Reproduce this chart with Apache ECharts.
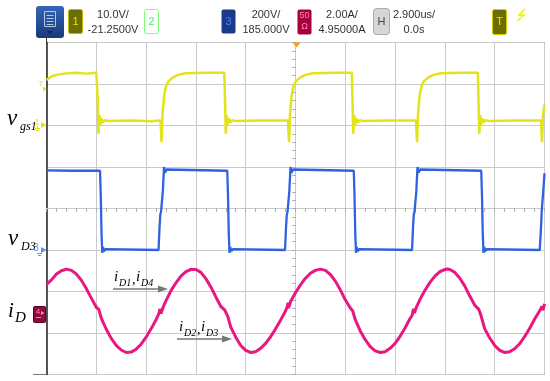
<!DOCTYPE html>
<html><head><meta charset="utf-8">
<script src="https://cdn.jsdelivr.net/npm/echarts@6/dist/echarts.min.js"></script>
<style>html,body{margin:0;padding:0;background:#fff;}#c{width:550px;height:381px;}</style>
</head><body><div id="c"></div>
<script>
// time: divisions from screen centre (2.900 us/div); values: divisions from screen centre
const vgs1 = [[-5.0,3.10],[-4.9,3.18],[-4.8,3.22],[-4.65,3.25],[-4.4,3.27],[-4.2,3.25],[-4.0,3.27],
[-3.985,3.27],[-3.97,2.6],[-3.955,1.80],[-3.935,2.25],[-3.915,2.02],[-3.895,2.17],[-3.865,2.08],[-3.825,2.13],[-3.775,2.11],[-3.3,2.12],[-2.9,2.10],
[-2.71,2.12],[-2.69,1.60],[-2.67,2.25],[-2.64,2.7],[-2.60,2.95],[-2.55,3.07],[-2.46,3.16],[-2.36,3.22],[-2.21,3.26],[-1.8,3.27],
[-1.43,3.27],[-1.415,2.6],[-1.40,1.80],[-1.38,2.25],[-1.36,2.02],[-1.34,2.17],[-1.31,2.08],[-1.27,2.13],[-1.22,2.11],[-0.7,2.12],
[-0.15,2.12],[-0.13,1.60],[-0.11,2.25],[-0.08,2.7],[-0.04,2.95],[0.01,3.07],[0.10,3.16],[0.20,3.22],[0.35,3.26],[0.8,3.27],
[1.13,3.27],[1.145,2.6],[1.16,1.80],[1.18,2.25],[1.20,2.02],[1.22,2.17],[1.25,2.08],[1.29,2.13],[1.34,2.11],[1.9,2.12],
[2.42,2.12],[2.44,1.60],[2.46,2.25],[2.49,2.7],[2.53,2.95],[2.58,3.07],[2.67,3.16],[2.77,3.22],[2.92,3.26],[3.3,3.27],
[3.66,3.27],[3.675,2.6],[3.69,1.80],[3.71,2.25],[3.73,2.02],[3.75,2.17],[3.78,2.08],[3.82,2.13],[3.87,2.11],[4.4,2.12],
[4.93,2.12],[4.95,1.60],[4.97,2.25],[5.0,2.5]];

const vD3 = [[-5,0.92],[-4.5,0.91],
[-3.925,0.91],[-3.91,0.3],[-3.895,-0.6],[-3.88,-1.07],[-3.865,-0.93],[-3.845,-1.03],[-3.815,-0.98],[-3.775,-1.0],
[-2.75,-1.0],[-2.73,-0.45],[-2.715,-0.15],[-2.70,-0.08],[-2.685,-0.12],[-2.665,0.4],[-2.64,1.0],[-2.62,0.86],[-2.59,0.94],[-2.55,0.91],
[-1.37,0.91],[-1.355,0.3],[-1.34,-0.6],[-1.325,-1.07],[-1.31,-0.93],[-1.29,-1.03],[-1.26,-0.98],[-1.22,-1.0],
[-0.21,-1.0],[-0.19,-0.45],[-0.175,-0.15],[-0.16,-0.08],[-0.145,-0.12],[-0.125,0.4],[-0.10,1.0],[-0.08,0.86],[-0.05,0.94],[-0.01,0.91],
[1.17,0.91],[1.185,0.3],[1.20,-0.6],[1.215,-1.07],[1.23,-0.93],[1.25,-1.03],[1.28,-0.98],[1.32,-1.0],
[2.34,-1.0],[2.36,-0.45],[2.375,-0.15],[2.39,-0.08],[2.405,-0.12],[2.425,0.4],[2.45,1.0],[2.47,0.86],[2.50,0.94],[2.54,0.91],
[3.73,0.91],[3.745,0.3],[3.76,-0.6],[3.775,-1.07],[3.79,-0.93],[3.81,-1.03],[3.84,-0.98],[3.88,-1.0],
[4.905,-1.0],[4.93,-0.45],[4.945,-0.05],[4.96,-0.08],[4.98,0.5],[5.0,0.85]];

const iD = [[-5.0,-1.83],[-4.9,-1.72],[-4.8,-1.58],[-4.7,-1.50],[-4.6,-1.46],[-4.5,-1.49],[-4.4,-1.58],[-4.3,-1.73],[-4.2,-1.93],[-4.1,-2.16],[-4.0,-2.38],[-3.95,-2.43],[-3.9,-2.64],[-3.8,-2.91],[-3.7,-3.13],[-3.6,-3.30],[-3.5,-3.41],[-3.4,-3.47],[-3.3,-3.46],[-3.2,-3.39],[-3.1,-3.27],[-3.0,-3.10],[-2.9,-2.90],[-2.8,-2.68],[-2.75,-2.55],[-2.72,-2.42],[-2.70,-2.53],[-2.66,-2.38],[-2.6,-2.22],[-2.5,-1.98],[-2.4,-1.79],[-2.3,-1.63],[-2.2,-1.52],[-2.1,-1.47],[-2.0,-1.47],[-1.9,-1.54],[-1.8,-1.69],[-1.7,-1.89],[-1.6,-2.13],[-1.5,-2.36],[-1.42,-2.45],[-1.36,-2.60],[-1.3,-2.86],[-1.2,-3.10],[-1.1,-3.30],[-1.0,-3.42],[-0.9,-3.47],
[-0.8,-3.45],[-0.7,-3.37],[-0.6,-3.25],[-0.5,-3.09],[-0.4,-2.90],[-0.3,-2.69],[-0.2,-2.47],[-0.17,-2.38],[-0.15,-2.27],[-0.14,-2.40],[-0.11,-2.30],[-0.1,-2.24],[0.0,-2.03],[0.1,-1.84],[0.2,-1.68],[0.3,-1.56],[0.4,-1.49],[0.5,-1.46],
[0.6,-1.49],[0.7,-1.59],[0.8,-1.75],[0.9,-1.96],[1.0,-2.20],[1.1,-2.40],[1.15,-2.47],[1.2,-2.68],[1.3,-2.95],[1.4,-3.16],[1.5,-3.33],[1.6,-3.43],[1.7,-3.47],
[1.8,-3.45],[1.9,-3.37],[2.0,-3.25],[2.1,-3.08],[2.2,-2.88],[2.3,-2.65],[2.34,-2.58],[2.37,-2.42],[2.39,-2.52],[2.42,-2.40],[2.5,-2.19],[2.6,-1.97],[2.7,-1.78],[2.8,-1.63],[2.9,-1.52],[3.0,-1.47],[3.05,-1.46],
[3.1,-1.47],[3.2,-1.54],[3.3,-1.68],[3.4,-1.87],[3.5,-2.11],[3.6,-2.33],[3.68,-2.43],[3.72,-2.56],[3.8,-2.90],[3.9,-3.12],[4.0,-3.30],[4.1,-3.42],[4.2,-3.47],
[4.3,-3.45],[4.4,-3.38],[4.5,-3.26],[4.6,-3.09],[4.7,-2.89],[4.8,-2.67],[4.9,-2.47],[4.93,-2.50],[4.95,-2.36],[4.97,-2.45],[5.0,-2.30]];

const scaleTexts = ['10.0V/','200V/','2.00A/','2.900us/'];
const offsetTexts = ['-21.2500V','185.000V','4.95000A','0.0s'];

const YEL = '#e3e31a', BLU = '#2f62e0', PNK = '#e8187f';
const serif = '"Liberation Serif","DejaVu Serif",serif';
const sans = '"Liberation Sans",Arial,sans-serif';

function T(x, y, text, font, fill, align, va) {
  return {type:'text', x:x, y:y, z:100, style:{text:text, font:font, fill:fill||'#000', textAlign:align||'left', textVerticalAlign:va||'middle'}};
}
function R(x,y,w,h,fill,stroke,r){
  return {type:'rect', z:90, shape:{x:x,y:y,width:w,height:h,r:r||0}, style:{fill:fill, stroke:stroke||null, lineWidth:1}};
}
function L(x1,y1,x2,y2,stroke,w){
  return {type:'line', z:95, shape:{x1:x1,y1:y1,x2:x2,y2:y2}, style:{stroke:stroke,lineWidth:w||1}};
}
function P(points, fill){
  return {type:'polygon', z:96, shape:{points:points}, style:{fill:fill}};
}

const g = [];
// header
g.push({type:'rect', z:90, shape:{x:36,y:6,width:28,height:32,r:3}, style:{fill:{type:'linear',x:0,y:0,x2:0,y2:1,colorStops:[{offset:0,color:'#3566b8'},{offset:1,color:'#163a7a'}]}}});
g.push({type:'rect', z:91, shape:{x:44.5,y:11.5,width:11,height:15}, style:{fill:null, stroke:'#b8c4e0', lineWidth:1}});
[15,18,21,24].forEach(function(yy){ g.push(L(46.5,yy+0.5,53.5,yy+0.5,'#b8c4e0',1)); });
g.push(P([[47,31],[53,31],[50,34]],'#0d2550'));
g.push(R(68.5,9.5,14,24,'#6e6e00','#b8b800',2)); g.push(T(75.5,21.5,'1','11px '+sans,'#e8e800','center'));
g.push(R(144.5,9.5,14,24,'#ffffff','#7dff7d',2)); g.push(T(151.5,21.5,'2','11px '+sans,'#55e855','center'));
g.push(R(221.5,9.5,14,24,'#1a3a8a',null,2)); g.push(T(228.5,21.5,'3','11px '+sans,'#4a86ff','center'));
g.push(R(297.5,9.5,14,25,'#a8003f',null,2)); g.push(T(304.5,16,'50','9px '+sans,'#ff8ab0','center')); g.push(T(304.5,27,'\u03A9','9px '+sans,'#ff8ab0','center'));
g.push(R(373.5,8.5,16,26,'#d6d6d6','#aaaaaa',3)); g.push(T(381.5,21.5,'H','11px '+sans,'#444','center'));
g.push(R(492.5,9.5,14,25,'#6e6e00','#d0d000',2)); g.push(T(499.5,21.5,'T','11px '+sans,'#e8e800','center'));
g.push({type:'polyline', z:95, shape:{points:[[525,9],[519,15],[524,15],[517,21]]}, style:{stroke:'#f0f000',lineWidth:1.5,fill:null}});
const cx = [113, 266, 342, 414];
for (let i=0;i<4;i++){ g.push(T(cx[i],15,scaleTexts[i],'11px '+sans,'#333','center')); g.push(T(cx[i],30,offsetTexts[i],'11px '+sans,'#333','center')); }
// trigger position marker
g.push(P([[292.5,42.5],[300.5,42.5],[296.5,47.5]],'#ff9a1a'));
// left extensions of frame
g.push(L(33,374.5,46,374.5,'#777',1));
g.push(L(46.5,38,46.5,42,'#333',1));
// channel markers
g.push(T(41,84,'T','8px '+sans,YEL,'center')); g.push(P([[43,86.5],[46.5,89],[43,91.5]],YEL));
g.push(T(37,123,'1','9px '+sans,YEL,'center')); g.push(P([[41,122],[46.5,125],[41,128]],YEL));
g.push(L(35,128.5,40,128.5,YEL,1)); g.push(L(36,130.5,39,130.5,YEL,1)); g.push(L(37.5,126,37.5,128.5,YEL,1));
g.push(T(36,248,'3','10px '+sans,'#5d90f0','center')); g.push(P([[41,247],[46.5,250],[41,253]],'#5d90f0'));
g.push(L(37,253.5,42,253.5,'#5d90f0',1)); g.push(L(38,255.5,41,255.5,'#5d90f0',1));
g.push(R(33.5,306.5,12,16,'#8c0c3c','#5a0020',1)); g.push(T(38,312,'4','8px '+sans,'#ff86b4','center')); g.push(P([[41,311],[44.5,313],[41,315]],'#ff86b4'));
g.push(L(36,317.5,41,317.5,'#ff86b4',1));
// signal names
g.push(T(7,119,'v','italic 23px '+serif,'#000'));
g.push(T(20,127,'gs1','italic 12px '+serif,'#000'));
g.push(T(8,239,'v','italic 23px '+serif,'#000'));
g.push(T(21,247,'D3','italic 12px '+serif,'#000'));
g.push(T(8,311,'i','italic 21px '+serif,'#000'));
g.push(T(15,318,'D','italic 15px '+serif,'#000'));
// annotations
g.push(T(114,277,'i','italic 15px '+serif,'#000'));
g.push(T(119,283,'D1','italic 10px '+serif,'#000'));
g.push(T(132,280,',','italic 14px '+serif,'#000'));
g.push(T(136,277,'i','italic 15px '+serif,'#000'));
g.push(T(141,283,'D4','italic 10px '+serif,'#000'));
g.push(L(113,289,160,289,'#777',1.5)); g.push(P([[158,285.5],[168,289],[158,292.5]],'#777'));
g.push(T(179,327,'i','italic 15px '+serif,'#000'));
g.push(T(184,333,'D2','italic 10px '+serif,'#000'));
g.push(T(197,330,',','italic 14px '+serif,'#000'));
g.push(T(201,327,'i','italic 15px '+serif,'#000'));
g.push(T(206,333,'D3','italic 10px '+serif,'#000'));
g.push(L(177,339,224,339,'#777',1.5)); g.push(P([[222,335.5],[232,339],[222,342.5]],'#777'));

const gridCol = '#cacaca';
const chart = echarts.init(document.getElementById('c'), null, {renderer:'canvas'});
function xa(inside, split){
  return {type:'value', min:-5, max:5, interval:1, gridIndex:0,
    axisLine:{show:true, onZero:true, lineStyle:{color:gridCol,width:1}},
    axisTick:{show:true, inside:inside, length:3, lineStyle:{color:'#aaa'}},
    minorTick:{show:true, splitNumber:5, length:3, lineStyle:{color:'#aaa'}},
    axisLabel:{show:false}, splitLine:{show:split, lineStyle:{color:gridCol,width:1}}, minorSplitLine:{show:false}};
}
function ya(inside, split){
  return {type:'value', min:-4, max:4, interval:1, gridIndex:0,
    axisLine:{show:true, onZero:true, lineStyle:{color:gridCol,width:1}},
    axisTick:{show:true, inside:inside, length:3, lineStyle:{color:'#aaa'}},
    minorTick:{show:true, splitNumber:5, length:3, lineStyle:{color:'#aaa'}},
    axisLabel:{show:false}, splitLine:{show:split, lineStyle:{color:gridCol,width:1}}, minorSplitLine:{show:false}};
}
const yBorder = {type:'value', min:-4, max:4, interval:1, position:'left', axisLine:{show:true,onZero:false,lineStyle:{color:'#222',width:1.5}}, axisTick:{show:false}, axisLabel:{show:false}, splitLine:{show:false}};
chart.setOption({
  animation:false,
  backgroundColor:'#fff',
  grid:{left:46.5, top:42.5, width:498, height:332, show:true, borderColor:'#6a6a6a', borderWidth:1, backgroundColor:'#fff'},
  xAxis:[xa(false,true), xa(true,false)],
  yAxis:[ya(false,true), ya(true,false), yBorder],
  series:[
    {type:'line', xAxisIndex:0, yAxisIndex:0, data:iD, showSymbol:false, lineStyle:{color:PNK,width:3}, z:3},
    {type:'line', xAxisIndex:0, yAxisIndex:0, data:vD3, showSymbol:false, lineStyle:{color:BLU,width:2.3}, z:4},
    {type:'line', xAxisIndex:0, yAxisIndex:0, data:vgs1, showSymbol:false, lineStyle:{color:YEL,width:2.5}, z:5}
  ],
  graphic:g
});
</script>
</body></html>
